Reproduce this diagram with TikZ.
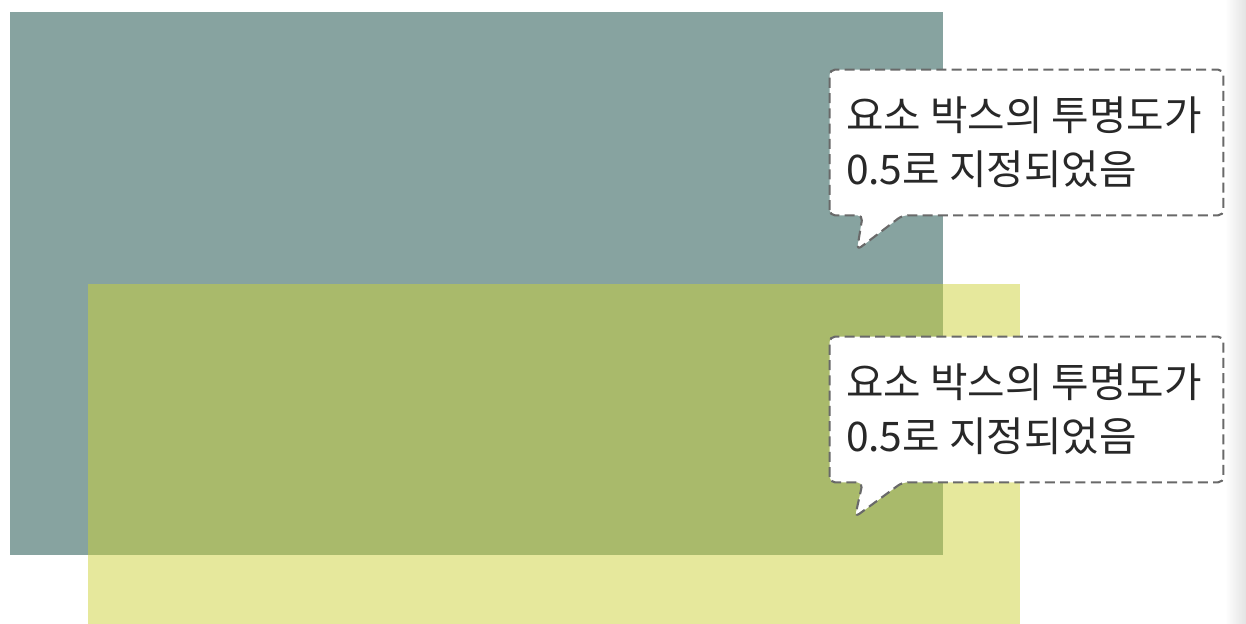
\documentclass[tikz,border=0pt]{standalone}
\usepackage{fontspec}
\newfontfamily\kr{Noto Sans CJK KR}
\definecolor{boxteal}{RGB}{15,71,65}
\definecolor{boxyellow}{RGB}{205,209,57}
\definecolor{notegray}{RGB}{105,105,105}
\definecolor{notetext}{RGB}{40,40,40}
\begin{document}
\begin{tikzpicture}[elem/.style={draw=none, fill opacity=0.5, inner sep=0pt, anchor=south west},
    notebox/.style={draw=none, inner sep=0pt, minimum width=7.86cm, minimum height=2.9cm},
    noteline/.style={draw=notegray, line width=1.2pt, dash pattern=on 5.7pt off 3pt, rounded corners=3pt, fill=white},
    notetxt/.style={anchor=west, align=left, inner sep=0pt, text=notetext, font=\kr\fontsize{23.2pt}{31pt}\selectfont}]
    \useasboundingbox (0,0) rectangle (24.92,12.48);
    \shade[left color=white, right color=gray!22] (24.5,0) rectangle (24.92,12.48);
    \node[elem, fill=boxteal, minimum width=18.66cm, minimum height=10.86cm] (teal) at (0.2,1.38) {};
    \node[elem, fill=boxyellow, minimum width=18.64cm, minimum height=6.8cm] (yellow) at (1.76,0) {};
    % callout upper
    \node[notebox] (box1) at (20.53,9.63) {};
    \coordinate (tip1) at (17.14,7.48);
    \draw[noteline] (box1.south west) -- (box1.north west) -- (box1.north east) -- (box1.south east)
      -- ([xshift=-6.42cm]box1.south east) -- (tip1) -- ([xshift=0.66cm]box1.south west) -- cycle;
    \node[notetxt] (text1) at ([xshift=0.32cm]box1.west) {요소 박스의 투명도가\\0.5로 지정되었음};
    % callout lower
    \node[notebox] (box2) at (20.53,4.29) {};
    \coordinate (tip2) at (17.10,2.14);
    \draw[noteline] (box2.south west) -- (box2.north west) -- (box2.north east) -- (box2.south east)
      -- ([xshift=-6.42cm]box2.south east) -- (tip2) -- ([xshift=0.66cm]box2.south west) -- cycle;
    \node[notetxt] (text2) at ([xshift=0.32cm]box2.west) {요소 박스의 투명도가\\0.5로 지정되었음};
  \end{tikzpicture}
\end{document}
